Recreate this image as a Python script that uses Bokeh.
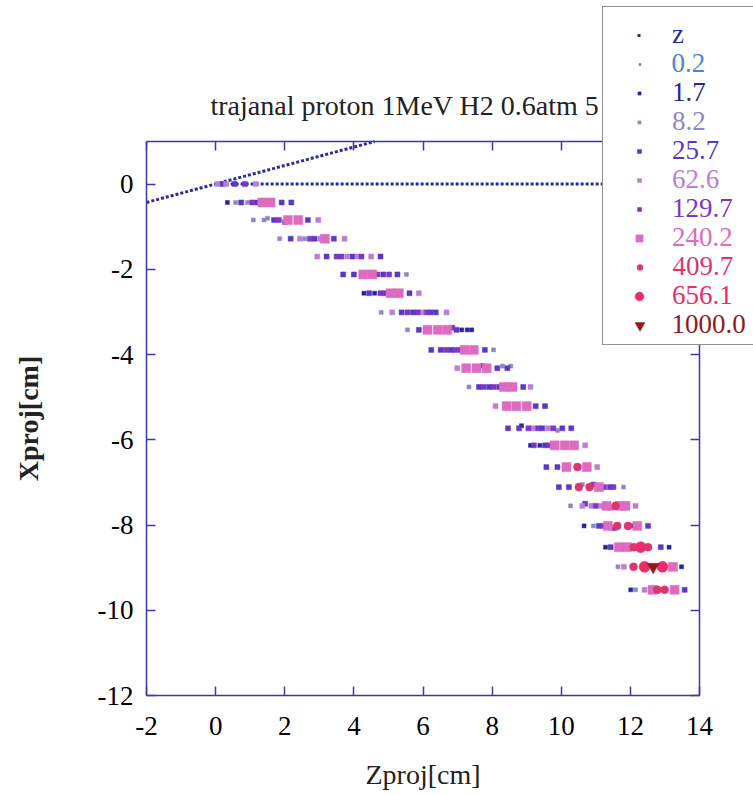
import math
import numpy as np
from bokeh.plotting import figure
from bokeh.models import (Range1d, LinearAxis, FixedTicker, Legend, LegendItem,
                          CustomJSTickFormatter, Label)
from bokeh.embed import file_html
from bokeh.resources import INLINE

# ---------------- data ----------------
x_ticks = [-2, 0, 2, 4, 6, 8, 10, 12, 14]
y_ticks = [-12, -10, -8, -6, -4, -2, 0]
x_lim = (-2, 14)
y_lim = (-12, 1)

title_text = "trajanal proton 1MeV H2 0.6atm 5"
x_label = "Zproj[cm]"
y_label = "Xproj[cm]"

# "z" reference lines (end points of the dotted lines)
z_diag_x = [-2.0, 4.6]
z_diag_y = [-0.43, 1.0]
z_flat_x = [0.0, 14.0]
z_flat_y = [0.0, 0.0]

labels = ["z", "0.2", "1.7", "8.2", "25.7", "62.6", "129.7", "240.2", "409.7", "656.1", "1000.0"]

# no visible points of the 0.2 class
x_02 = np.array([np.nan])
y_02 = np.array([np.nan])

x_17 = [0.34, 4.29, 4.60, 7.12, 7.28, 7.41, 7.72, 8.85, 9.11, 9.38, 10.66, 12.06, 11.28, 13.12, 13.48, 12.01]
y_17 = [-0.43, -2.56, -2.56, -3.42, -3.42, -3.42, -4.26, -5.67, -6.13, -6.13, -8.02, -8.02, -8.52, -8.52, -8.98, -9.52]

x_82 = [0.58, 0.92, 1.09, 1.40, 1.50, 1.85, 2.58, 5.52, 4.79, 5.55, 8.04, 8.30, 8.54, 7.33, 9.89, 10.61, 11.80, 10.27, 10.93, 11.64, 12.15]
y_82 = [-0.43, -0.43, -0.84, -0.84, -0.80, -1.28, -1.28, -2.12, -3.01, -3.42, -3.89, -4.27, -4.27, -4.76, -5.78, -7.05, -7.11, -7.55, -8.02, -8.98, -9.52]

x_257 = [0.20, 0.55, 0.74, 1.20, 1.91, 2.19, 1.69, 2.01, 2.67, 2.17, 2.86, 3.42, 3.21, 3.96, 4.77,
         3.69, 4.00, 4.85, 5.26, 4.44, 4.92, 5.61, 5.38, 5.71, 6.22, 6.37, 5.88, 6.97,
         6.24, 6.51, 6.80, 7.07, 7.79, 8.15, 8.44, 7.62, 7.91, 8.20, 8.90, 9.26, 9.53,
         8.46, 8.78, 9.45, 10.03, 10.29, 9.53, 9.57, 9.89, 9.93, 10.22, 11.41, 10.69,
         11.09, 12.51, 11.43, 12.88, 13.57]
y_257 = [0.0, 0.0, -0.43, -0.43, -0.43, -0.43, -0.84, -0.89, -0.84, -1.28, -1.28, -1.28, -1.70, -1.70, -1.70,
         -2.12, -2.12, -2.12, -2.12, -2.56, -2.56, -2.56, -3.01, -3.01, -3.01, -3.01, -3.42, -3.42,
         -3.89, -3.89, -3.89, -3.89, -3.89, -4.32, -4.32, -4.76, -4.76, -4.76, -4.76, -5.21, -5.21,
         -5.73, -5.73, -5.73, -5.73, -5.73, -6.13, -6.64, -6.64, -7.11, -7.11, -7.11, -7.50,
         -8.02, -8.02, -8.52, -8.52, -9.52]

x_626 = [0.05, 0.30, 1.16, 2.97, 2.44, 3.02, 3.73, 2.94, 3.81, 4.10, 4.50, 5.88, 5.11, 5.96, 6.68,
         6.99, 9.11, 8.10, 9.18, 9.62, 10.69, 11.04, 10.61, 10.87, 11.16, 11.45, 12.15, 11.81, 12.41]
y_626 = [0.0, 0.0, 0.0, -0.84, -1.28, -1.28, -1.28, -1.70, -1.70, -1.70, -1.70, -2.56, -3.01, -3.01, -3.01,
         -4.32, -4.76, -5.21, -5.73, -5.73, -6.13, -6.64, -7.55, -7.55, -7.55, -7.60, -7.55, -8.98, -9.52]

x_1297 = [0.85, 1.06, 1.83, 2.73, 3.50, 3.64, 4.22, 4.68, 5.02, 4.77, 5.55, 5.84, 6.11, 6.85, 6.66, 6.92,
          7.75, 8.04, 9.05, 9.33, 9.77, 9.21, 9.67, 10.93, 11.24, 11.51, 11.00, 11.22, 11.53]
y_1297 = [0.0, -0.43, -0.84, -1.28, -1.70, -1.70, -1.70, -2.12, -2.12, -2.56, -3.01, -3.01, -3.01, -3.37, -3.89, -3.89,
          -4.76, -4.76, -5.73, -5.73, -5.73, -6.13, -6.13, -7.05, -7.11, -7.11, -7.55, -8.02, -8.07]

x_2402 = [1.35, 1.59, 2.09, 2.39, 3.16, 4.27, 4.53, 5.06, 5.30, 6.13, 6.43, 6.70, 7.20, 7.47,
          7.25, 7.55, 7.84, 8.34, 8.59, 8.42, 8.70, 9.00, 9.81, 10.10, 10.37, 10.15, 10.74, 11.09,
          11.31, 11.70, 11.86, 11.35, 12.20, 11.67, 11.91, 13.23, 12.64, 13.28]
y_2402 = [-0.43, -0.43, -0.84, -0.84, -1.28, -2.12, -2.12, -2.56, -2.56, -3.42, -3.42, -3.42, -3.89, -3.89,
          -4.32, -4.32, -4.32, -4.76, -4.76, -5.21, -5.21, -5.21, -6.13, -6.13, -6.13, -6.64, -6.64, -7.11,
          -7.55, -7.55, -7.55, -8.02, -8.02, -8.52, -8.52, -8.98, -9.52, -9.52]

x_4097 = [10.47, 10.51, 10.82, 11.57, 11.62, 11.93, 12.10, 12.51, 12.09, 12.78, 12.99]
y_4097 = [-6.64, -7.11, -7.11, -7.55, -8.02, -8.02, -8.52, -8.52, -8.98, -9.52, -9.52]

x_6561 = [12.30, 12.41, 12.93]
y_6561 = [-8.52, -8.98, -8.98]

x_1000 = [12.66]
y_1000 = [-8.98]

# ---------------- layout / styling ----------------
W, H = 753, 795
# pixel box of the axes; the Bokeh frame fills the whole canvas
BL, BR, BT, BB = 146, 699, 141, 695
SERIF = "Liberation Serif"
FRAME = "#3a3aa8"

px_x = (BR - BL) / (x_lim[1] - x_lim[0])
px_y = (BB - BT) / (y_lim[1] - y_lim[0])
x_range = Range1d(x_lim[0] - BL / px_x, x_lim[1] + (W - BR) / px_x)
y_range = Range1d(y_lim[0] - (H - BB) / px_y, y_lim[1] + BT / px_y)

colors = ["#2b2b9c", "#4f82d8", "#25259a", "#8e87c8", "#5a38c2", "#bb80d2",
          "#7c36c4", "#dd6cc0", "#d8386e", "#ee2c6c", "#8c1c1c"]
markers = ["square", "square", "square", "square", "square", "square",
           "square", "square", "circle", "circle", "inverted_triangle"]
sizes = [3, 3, 4, 4, 5, 5, 5, 9, 8, 11, 12]
leg_sizes = [3, 2, 3, 3, 4, 4, 4, 7, 6, 9, 10]

p = figure(width=W, height=H, output_backend="svg", toolbar_location=None,
           x_range=x_range, y_range=y_range, min_border=0,
           min_border_left=0, min_border_right=0, min_border_top=0, min_border_bottom=0)
p.grid.visible = False
p.background_fill_color = "white"
p.border_fill_color = "white"
p.outline_line_color = None

def style_axis(ax, ticks, bounds, loc, show_labels):
    ax.fixed_location = loc
    ax.ticker = FixedTicker(ticks=ticks)
    ax.bounds = bounds
    ax.axis_line_color = FRAME
    ax.axis_line_width = 1.5
    ax.major_tick_line_color = FRAME
    ax.major_tick_line_width = 1.5
    ax.major_tick_in = 9
    ax.major_tick_out = 0
    ax.minor_tick_line_color = None
    ax.minor_tick_in = 0
    ax.minor_tick_out = 0
    ax.major_label_text_font = SERIF
    ax.major_label_text_font_size = "27px"
    ax.major_label_text_color = "black"
    if show_labels:
        ax.formatter = CustomJSTickFormatter(code="return String(tick)")
    else:
        ax.formatter = CustomJSTickFormatter(code="return ''")
        ax.major_label_text_font_size = "1px"
        ax.major_label_standoff = 0

style_axis(p.xaxis[0], x_ticks, x_lim, y_lim[0], True)
style_axis(p.yaxis[0], y_ticks, y_lim, x_lim[0], True)
p.xaxis[0].major_label_standoff = 21
p.yaxis[0].major_label_standoff = 13

top_ax = LinearAxis()
style_axis(top_ax, x_ticks, x_lim, y_lim[1], False)
p.add_layout(top_ax, "above")
right_ax = LinearAxis()
style_axis(right_ax, y_ticks, y_lim, x_lim[1], False)
p.add_layout(right_ax, "right")

# title and axis titles (screen units: from the canvas' bottom-left corner)
p.add_layout(Label(x=210, y=H - 105, x_units="screen", y_units="screen",
                   text=title_text, text_font=SERIF, text_font_size="28px",
                   text_color="#222222", text_align="left", text_baseline="alphabetic"))
p.add_layout(Label(x=(BL + BR) / 2, y=H - 774, x_units="screen", y_units="screen",
                   text=x_label, text_font=SERIF, text_font_size="28px",
                   text_color="#222222", text_align="center", text_baseline="middle"))
p.add_layout(Label(x=28, y=H - (BT + BB) / 2, x_units="screen", y_units="screen",
                   angle=math.pi / 2, text=y_label, text_font=SERIF, text_font_size="28px",
                   text_font_style="bold", text_color="#222222",
                   text_align="center", text_baseline="middle"))

# ---------------- data renderers ----------------
z_line = p.line(z_diag_x, z_diag_y, line_color=colors[0], line_width=3, line_dash="3 2")
p.line(z_flat_x, z_flat_y, line_color=colors[0], line_width=3, line_dash="3 2")

series = [(x_02, y_02), (x_17, y_17), (x_82, y_82), (x_257, y_257), (x_626, y_626),
          (x_1297, y_1297), (x_2402, y_2402), (x_4097, y_4097), (x_6561, y_6561), (x_1000, y_1000)]
rends = [z_line]
for i, (xs, ys) in enumerate(series, start=1):
    r = p.scatter(x=xs, y=ys, marker=markers[i], size=sizes[i],
                  fill_color=colors[i], line_color=colors[i], line_width=0.5)
    rends.append(r)

# ---------------- legend ----------------
BOX_L, BOX_T, BOX_B, BOX_R = 602, 8, 345, 760
dummy = p.scatter(x=x_02, y=y_02, alpha=0)
box = Legend(items=[LegendItem(label=" ", renderers=[dummy])],
             location=(BOX_L, H - BOX_B), padding=0, margin=0, spacing=0,
             glyph_width=1, glyph_height=BOX_B - BOX_T, label_height=BOX_B - BOX_T,
             label_width=BOX_R - BOX_L - 1, label_standoff=0,
             border_line_color="#222222", border_line_width=1.5,
             background_fill_color="white", background_fill_alpha=1.0,
             label_text_font_size="10px")
p.add_layout(box, "center")

GX, LX, Y0, DY, IH = 639, 672, 35, 29, 30
for i, lab in enumerate(labels):
    gw = 4 if i == 0 else max(int(round(leg_sizes[i] / 0.4)), 5)
    yc = Y0 + DY * i
    L = Legend(items=[LegendItem(label=lab, renderers=[rends[i]])],
               location=(GX - gw / 2, H - (yc + IH / 2)),
               padding=0, margin=0, spacing=0,
               glyph_width=gw, glyph_height=IH, label_height=IH, label_width=10,
               label_standoff=int(round(LX - (GX + gw / 2))),
               label_text_color=colors[i], label_text_font=SERIF,
               label_text_font_size="27px",
               border_line_alpha=0, background_fill_alpha=0)
    p.add_layout(L, "center")

open("out.html", "w").write(file_html(p, INLINE))
